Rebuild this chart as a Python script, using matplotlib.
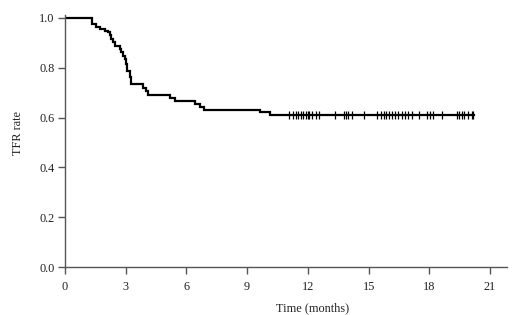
import matplotlib
matplotlib.use("Agg")
import matplotlib.pyplot as plt
import numpy as np

# Kaplan-Meier step curve (time in months, survival after event)
event_times = [0, 1.33, 1.55, 1.71, 1.96, 2.12, 2.21, 2.29, 2.37, 2.46, 2.70, 2.78,
               2.87, 2.95, 3.03, 3.08, 3.20, 3.28, 3.87, 4.00, 4.10, 5.19, 5.43,
               6.42, 6.67, 6.87, 9.63, 10.13]
survival = [1.0, 0.976, 0.965, 0.956, 0.949, 0.943, 0.930, 0.916, 0.903, 0.889,
            0.876, 0.862, 0.848, 0.835, 0.815, 0.789, 0.762, 0.735, 0.720, 0.705,
            0.690, 0.679, 0.665, 0.655, 0.641, 0.632, 0.621, 0.611]
end_time = 20.2

censor_times = [11.09, 11.28, 11.40, 11.51, 11.64, 11.78, 11.93, 11.99, 12.06, 12.20,
                12.38, 12.54, 13.34, 13.77, 13.87, 13.98, 14.16, 14.77, 15.42, 15.60,
                15.75, 15.87, 16.01, 16.14, 16.28, 16.43, 16.64, 16.80, 16.96, 17.13,
                17.48, 17.89, 18.02, 18.16, 18.61, 19.35, 19.49, 19.62, 19.71, 19.93,
                20.09, 20.17]

x_ticks = [0, 3, 6, 9, 12, 15, 18, 21]
y_ticks = [0.0, 0.2, 0.4, 0.6, 0.8, 1.0]
y_tick_labels = ["0.0", "0.2", "0.4", "0.6", "0.8", "1.0"]

plt.rcParams['font.family'] = ['Liberation Serif', 'DejaVu Serif']

fig = plt.figure(figsize=(5.2, 3.15), dpi=100)
ax = fig.add_axes([65/520, 1-267/315, 442/520, 252/315])

xs = list(event_times) + [end_time]
ys = list(survival) + [survival[-1]]
ax.step(xs, ys, where='post', color='black', lw=1.6, solid_joinstyle='miter')

# survival is constant after the last event
censor_y = np.full(len(censor_times), survival[-1])
ax.plot(censor_times, censor_y, ls='none', marker='|', color='black',
        markersize=6, markeredgewidth=0.9)

ax.set_xlim(0, 442/20.24)
ax.set_ylim(0, 252/249)
ax.set_xticks(x_ticks)
ax.set_yticks(y_ticks)
ax.set_yticklabels(y_tick_labels)

for s in ['top', 'right']:
    ax.spines[s].set_visible(False)
for s in ['left', 'bottom']:
    ax.spines[s].set_color('#555555')
    ax.spines[s].set_linewidth(1.0)

ax.tick_params(axis='both', direction='out', length=5, width=1.0,
               color='#555555', labelsize=8.8, labelcolor='#222222')
ax.tick_params(axis='x', pad=5)
ax.tick_params(axis='y', pad=2.5)

ax.set_xlabel('Time (months)', fontsize=8.8, color='#222222')
ax.set_ylabel('TFR rate', fontsize=8.8, color='#222222')
ax.xaxis.set_label_coords(0.559, -0.163)
ax.yaxis.set_label_coords(-0.107, 0.532)
ax.xaxis.label.set_va('center')
ax.yaxis.label.set_va('center')

fig.savefig('out.png', dpi=100)
